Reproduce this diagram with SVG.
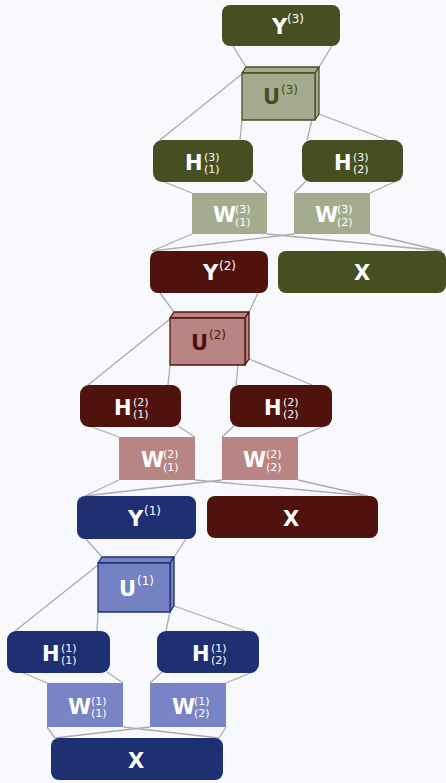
<svg xmlns="http://www.w3.org/2000/svg" width="446" height="783" viewBox="0 0 446 783">
  <style>
    .bg { fill: #f8f9fc; }
    .ln { stroke: #ababab; stroke-width: 1.3; fill: none; }
    .od { fill: #464f22; }
    .ol { fill: #a4ab8e; }
    .olu { fill: #a4ab8e; stroke: #464f22; stroke-width: 1.3; stroke-linejoin: round; }
    .rd { fill: #4f120c; }
    .rl { fill: #b98584; }
    .rlu { fill: #b98584; stroke: #4f120c; stroke-width: 1.3; stroke-linejoin: round; }
    .bd { fill: #1e2f72; }
    .bl { fill: #7884c5; }
    .blu { fill: #7482c3; stroke: #1e2f72; stroke-width: 1.3; stroke-linejoin: round; }
    .m { font-family: "DejaVu Sans", "Liberation Sans", sans-serif; font-weight: bold; font-size: 21px; fill: #ffffff; }
    .s { font-family: "DejaVu Sans", "Liberation Sans", sans-serif; font-size: 12px; fill: #ffffff; }
    .k { font-family: "DejaVu Sans", "Liberation Sans", sans-serif; font-size: 11px; fill: #ffffff; }
  </style>
  <rect class="bg" x="0" y="0" width="446" height="783"/>

  <!-- connectors -->
  <g id="connectors">
    <!-- layer 3 -->
    <line class="ln" x1="233" y1="46" x2="246" y2="67"/>
    <line class="ln" x1="332" y1="46" x2="319" y2="67"/>
    <line class="ln" x1="242" y1="74" x2="160" y2="140"/>
    <line class="ln" x1="242" y1="120" x2="240" y2="140"/>
    <line class="ln" x1="312" y1="120" x2="307" y2="140"/>
    <line class="ln" x1="319" y1="114" x2="387" y2="140"/>
    <line class="ln" x1="157" y1="179" x2="192" y2="193"/>
    <line class="ln" x1="253" y1="180" x2="267" y2="193"/>
    <line class="ln" x1="306" y1="181" x2="294" y2="193"/>
    <line class="ln" x1="401" y1="179" x2="370" y2="193"/>
    <line class="ln" x1="192" y1="234" x2="152" y2="251"/>
    <line class="ln" x1="267" y1="234" x2="442" y2="251"/>
    <line class="ln" x1="294" y1="234" x2="152" y2="251"/>
    <line class="ln" x1="370" y1="234" x2="442" y2="251"/>
    <!-- layer 2 -->
    <line class="ln" x1="160" y1="293" x2="174" y2="312"/>
    <line class="ln" x1="258" y1="293" x2="249" y2="312"/>
    <line class="ln" x1="170" y1="319" x2="88" y2="385"/>
    <line class="ln" x1="170" y1="365" x2="168" y2="385"/>
    <line class="ln" x1="238" y1="365" x2="236" y2="385"/>
    <line class="ln" x1="249" y1="359" x2="312" y2="385"/>
    <line class="ln" x1="84" y1="424" x2="119" y2="437"/>
    <line class="ln" x1="178" y1="426" x2="195" y2="437"/>
    <line class="ln" x1="234" y1="426" x2="222" y2="437"/>
    <line class="ln" x1="329" y1="424" x2="298" y2="437"/>
    <line class="ln" x1="119" y1="480" x2="85" y2="496"/>
    <line class="ln" x1="195" y1="480" x2="368" y2="496"/>
    <line class="ln" x1="222" y1="480" x2="85" y2="496"/>
    <line class="ln" x1="298" y1="480" x2="368" y2="496"/>
    <!-- layer 1 -->
    <line class="ln" x1="86" y1="539" x2="102" y2="557"/>
    <line class="ln" x1="186" y1="539" x2="174" y2="557"/>
    <line class="ln" x1="98" y1="565" x2="15" y2="631"/>
    <line class="ln" x1="98" y1="612" x2="97" y2="631"/>
    <line class="ln" x1="170" y1="612" x2="166" y2="631"/>
    <line class="ln" x1="174" y1="606" x2="245" y2="631"/>
    <line class="ln" x1="19" y1="671" x2="47" y2="683"/>
    <line class="ln" x1="107" y1="672" x2="123" y2="683"/>
    <line class="ln" x1="162" y1="672" x2="150" y2="683"/>
    <line class="ln" x1="255" y1="671" x2="226" y2="683"/>
    <line class="ln" x1="47" y1="727" x2="55" y2="738"/>
    <line class="ln" x1="123" y1="727" x2="219" y2="738"/>
    <line class="ln" x1="150" y1="727" x2="55" y2="738"/>
    <line class="ln" x1="226" y1="727" x2="219" y2="738"/>
  </g>

  <!-- layer 3 -->
  <g id="Y3">
    <rect class="od" x="222" y="5" width="118" height="41" rx="8"/>
    <text class="m" x="272" y="33.5">Y</text>
    <text class="s" x="287" y="23">(3)</text>
  </g>
  <g id="U3">
    <polygon class="olu" points="242,73 246,67 319,67 315,73"/>
    <polygon class="olu" points="315,73 319,67 319,114 315,120"/>
    <rect class="olu" x="242" y="73" width="73" height="47"/>
    <text class="m" x="263" y="104" style="fill:#464f22">U</text>
    <text class="s" x="281" y="94" style="fill:#464f22">(3)</text>
  </g>
  <g id="H3_1">
    <rect class="od" x="153" y="140" width="100" height="42" rx="9"/>
    <text class="m" x="185" y="169.5">H</text>
    <text class="k" x="204" y="160.5">(3)</text>
    <text class="k" x="204" y="173">(1)</text>
  </g>
  <g id="H3_2">
    <rect class="od" x="302" y="140" width="101" height="42" rx="9"/>
    <text class="m" x="334" y="169.5">H</text>
    <text class="k" x="353" y="160.5">(3)</text>
    <text class="k" x="353" y="173">(2)</text>
  </g>
  <g id="W3_1">
    <rect class="ol" x="192" y="193" width="75" height="41"/>
    <text class="m" x="213" y="222">W</text>
    <text class="k" x="235" y="213">(3)</text>
    <text class="k" x="235" y="225.5">(1)</text>
  </g>
  <g id="W3_2">
    <rect class="ol" x="294" y="193" width="76" height="41"/>
    <text class="m" x="315" y="222">W</text>
    <text class="k" x="337" y="213">(3)</text>
    <text class="k" x="337" y="225.5">(2)</text>
  </g>
  <g id="X3">
    <rect class="od" x="278" y="251" width="168" height="42" rx="8"/>
    <text class="m" x="354" y="280">X</text>
  </g>

  <!-- layer 2 -->
  <g id="Y2">
    <rect class="rd" x="150" y="251" width="118" height="42" rx="8"/>
    <text class="m" x="203" y="280">Y</text>
    <text class="s" x="219" y="270">(2)</text>
  </g>
  <g id="U2">
    <polygon class="rlu" points="170,318 174,312 249,312 245,318"/>
    <polygon class="rlu" points="245,318 249,312 249,359 245,365"/>
    <rect class="rlu" x="170" y="318" width="75" height="47"/>
    <text class="m" x="191" y="350" style="fill:#4f120c">U</text>
    <text class="s" x="209" y="339" style="fill:#4f120c">(2)</text>
  </g>
  <g id="H2_1">
    <rect class="rd" x="80" y="385" width="101" height="42" rx="9"/>
    <text class="m" x="114" y="414.5">H</text>
    <text class="k" x="133" y="405.5">(2)</text>
    <text class="k" x="133" y="418">(1)</text>
  </g>
  <g id="H2_2">
    <rect class="rd" x="230" y="385" width="102" height="42" rx="9"/>
    <text class="m" x="264" y="414.5">H</text>
    <text class="k" x="283" y="405.5">(2)</text>
    <text class="k" x="283" y="418">(2)</text>
  </g>
  <g id="W2_1">
    <rect class="rl" x="119" y="437" width="76" height="43"/>
    <text class="m" x="141" y="467">W</text>
    <text class="k" x="163" y="458">(2)</text>
    <text class="k" x="163" y="470.5">(1)</text>
  </g>
  <g id="W2_2">
    <rect class="rl" x="222" y="437" width="76" height="43"/>
    <text class="m" x="243" y="467">W</text>
    <text class="k" x="266" y="458">(2)</text>
    <text class="k" x="266" y="470.5">(2)</text>
  </g>
  <g id="X2">
    <rect class="rd" x="207" y="496" width="171" height="42" rx="8"/>
    <text class="m" x="283" y="525.5">X</text>
  </g>

  <!-- layer 1 -->
  <g id="Y1">
    <rect class="bd" x="77" y="496" width="119" height="43" rx="8"/>
    <text class="m" x="128" y="526">Y</text>
    <text class="s" x="144" y="515">(1)</text>
  </g>
  <g id="U1">
    <polygon class="blu" points="98,563 102,557 174,557 170,563"/>
    <polygon class="blu" points="170,563 174,557 174,606 170,612"/>
    <rect class="blu" x="98" y="563" width="72" height="49"/>
    <text class="m" x="119" y="596">U</text>
    <text class="s" x="137" y="585">(1)</text>
  </g>
  <g id="H1_1">
    <rect class="bd" x="7" y="631" width="103" height="42" rx="9"/>
    <text class="m" x="42" y="660.5">H</text>
    <text class="k" x="61" y="651.5">(1)</text>
    <text class="k" x="61" y="664">(1)</text>
  </g>
  <g id="H1_2">
    <rect class="bd" x="157" y="631" width="102" height="42" rx="9"/>
    <text class="m" x="192" y="660.5">H</text>
    <text class="k" x="211" y="651.5">(1)</text>
    <text class="k" x="211" y="664">(2)</text>
  </g>
  <g id="W1_1">
    <rect class="bl" x="47" y="683" width="76" height="44"/>
    <text class="m" x="68" y="713.5">W</text>
    <text class="k" x="91" y="704.5">(1)</text>
    <text class="k" x="91" y="717">(1)</text>
  </g>
  <g id="W1_2">
    <rect class="bl" x="150" y="683" width="76" height="44"/>
    <text class="m" x="172" y="713.5">W</text>
    <text class="k" x="194" y="704.5">(1)</text>
    <text class="k" x="194" y="717">(2)</text>
  </g>
  <g id="X1">
    <rect class="bd" x="51" y="738" width="172" height="42" rx="8"/>
    <text class="m" x="128" y="767.5">X</text>
  </g>
</svg>
